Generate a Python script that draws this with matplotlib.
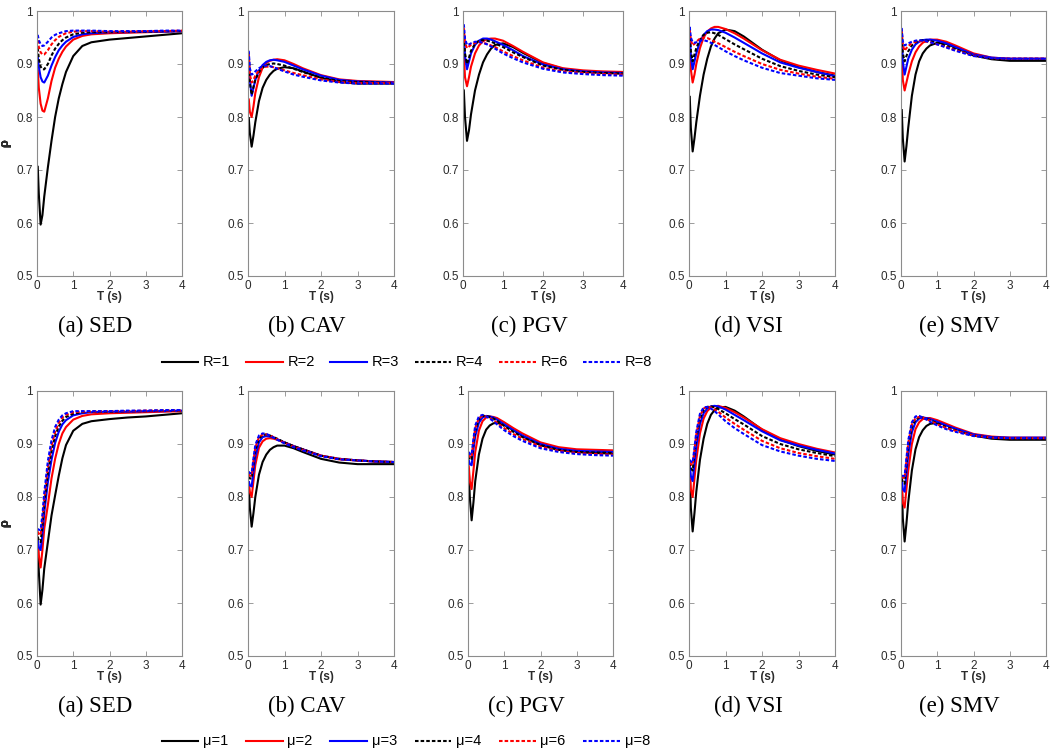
import matplotlib
matplotlib.use("Agg")
import matplotlib.pyplot as plt
from matplotlib import font_manager as fm
from matplotlib.lines import Line2D

# ---------------------------------------------------------------- data
# Period grid (s)
T = [0.02, 0.05, 0.1, 0.15, 0.2, 0.3, 0.4, 0.5, 0.6, 0.7, 0.8,
     1.0, 1.25, 1.5, 2.0, 2.5, 3.0, 3.5, 4.0]

R_values = [1, 2, 3, 4, 6, 8]
MU_values = [1, 2, 3, 4, 6, 8]
measures = ["SED", "CAV", "PGV", "VSI", "SMV"]
panel_letters = ["a", "b", "c", "d", "e"]

x_ticks = [0, 1, 2, 3, 4]
x_ticklabels = ["0", "1", "2", "3", "4"]
y_ticks = [0.5, 0.6, 0.7, 0.8, 0.9, 1.0]
y_ticklabels = ["0.5", "0.6", "0.7", "0.8", "0.9", "1"]

# correlation rho vs. period, one row per R value (1, 2, 3, 4, 6, 8)
SED_R = [
    [0.708, 0.655, 0.597, 0.615, 0.650, 0.705, 0.755, 0.800, 0.835, 0.862, 0.885, 0.915, 0.934, 0.941, 0.946, 0.949, 0.952, 0.955, 0.958],
    [0.890, 0.855, 0.825, 0.812, 0.810, 0.835, 0.868, 0.893, 0.910, 0.923, 0.933, 0.946, 0.953, 0.956, 0.958, 0.959, 0.960, 0.961, 0.962],
    [0.915, 0.895, 0.875, 0.867, 0.865, 0.878, 0.897, 0.913, 0.926, 0.935, 0.942, 0.951, 0.956, 0.958, 0.960, 0.960, 0.961, 0.961, 0.962],
    [0.930, 0.910, 0.895, 0.890, 0.890, 0.900, 0.916, 0.929, 0.938, 0.945, 0.950, 0.956, 0.959, 0.960, 0.960, 0.961, 0.961, 0.962, 0.962],
    [0.945, 0.932, 0.922, 0.918, 0.918, 0.926, 0.937, 0.945, 0.951, 0.955, 0.958, 0.961, 0.962, 0.962, 0.961, 0.961, 0.962, 0.962, 0.963],
    [0.955, 0.945, 0.937, 0.934, 0.935, 0.942, 0.950, 0.955, 0.958, 0.960, 0.962, 0.963, 0.963, 0.963, 0.962, 0.962, 0.962, 0.963, 0.963],
]
CAV_R = [
    [0.800, 0.770, 0.744, 0.765, 0.790, 0.830, 0.855, 0.870, 0.880, 0.887, 0.891, 0.894, 0.892, 0.886, 0.874, 0.866, 0.863, 0.863, 0.863],
    [0.835, 0.810, 0.800, 0.820, 0.845, 0.875, 0.893, 0.902, 0.906, 0.908, 0.909, 0.907, 0.900, 0.892, 0.879, 0.871, 0.868, 0.867, 0.866],
    [0.922, 0.870, 0.840, 0.855, 0.870, 0.888, 0.898, 0.904, 0.907, 0.908, 0.907, 0.904, 0.897, 0.890, 0.878, 0.870, 0.867, 0.866, 0.865],
    [0.915, 0.865, 0.842, 0.857, 0.870, 0.885, 0.893, 0.898, 0.900, 0.901, 0.900, 0.897, 0.891, 0.885, 0.874, 0.868, 0.866, 0.865, 0.864],
    [0.920, 0.880, 0.865, 0.870, 0.878, 0.888, 0.893, 0.895, 0.895, 0.894, 0.892, 0.888, 0.883, 0.879, 0.871, 0.866, 0.864, 0.864, 0.864],
    [0.925, 0.892, 0.880, 0.882, 0.886, 0.892, 0.896, 0.897, 0.896, 0.894, 0.891, 0.886, 0.880, 0.876, 0.869, 0.865, 0.863, 0.863, 0.863],
]
PGV_R = [
    [0.852, 0.800, 0.755, 0.775, 0.805, 0.850, 0.880, 0.903, 0.918, 0.929, 0.936, 0.939, 0.932, 0.921, 0.902, 0.891, 0.886, 0.884, 0.882],
    [0.920, 0.875, 0.858, 0.875, 0.895, 0.920, 0.935, 0.943, 0.947, 0.948, 0.948, 0.944, 0.934, 0.923, 0.903, 0.892, 0.888, 0.886, 0.885],
    [0.960, 0.915, 0.890, 0.905, 0.920, 0.936, 0.944, 0.948, 0.948, 0.946, 0.943, 0.936, 0.926, 0.915, 0.899, 0.890, 0.886, 0.884, 0.883],
    [0.962, 0.920, 0.900, 0.912, 0.925, 0.938, 0.944, 0.945, 0.944, 0.942, 0.939, 0.932, 0.922, 0.913, 0.897, 0.889, 0.885, 0.883, 0.882],
    [0.968, 0.940, 0.930, 0.933, 0.936, 0.940, 0.941, 0.940, 0.938, 0.935, 0.932, 0.924, 0.915, 0.907, 0.893, 0.886, 0.883, 0.881, 0.880],
    [0.975, 0.948, 0.936, 0.937, 0.939, 0.942, 0.942, 0.940, 0.937, 0.933, 0.929, 0.920, 0.911, 0.903, 0.891, 0.884, 0.881, 0.879, 0.878],
]
VSI_R = [
    [0.840, 0.780, 0.735, 0.760, 0.790, 0.840, 0.880, 0.910, 0.933, 0.948, 0.958, 0.965, 0.962, 0.952, 0.927, 0.907, 0.894, 0.885, 0.878],
    [0.940, 0.890, 0.865, 0.880, 0.900, 0.930, 0.950, 0.961, 0.967, 0.970, 0.970, 0.966, 0.958, 0.948, 0.926, 0.908, 0.897, 0.889, 0.882],
    [0.970, 0.915, 0.890, 0.905, 0.920, 0.942, 0.955, 0.962, 0.965, 0.965, 0.964, 0.959, 0.950, 0.940, 0.920, 0.903, 0.893, 0.885, 0.877],
    [0.960, 0.925, 0.905, 0.918, 0.930, 0.946, 0.955, 0.959, 0.960, 0.958, 0.955, 0.947, 0.937, 0.928, 0.910, 0.896, 0.887, 0.880, 0.875],
    [0.965, 0.945, 0.935, 0.938, 0.942, 0.948, 0.950, 0.949, 0.946, 0.942, 0.939, 0.932, 0.923, 0.915, 0.900, 0.889, 0.882, 0.876, 0.872],
    [0.970, 0.950, 0.941, 0.940, 0.941, 0.944, 0.945, 0.943, 0.940, 0.936, 0.932, 0.924, 0.915, 0.907, 0.893, 0.883, 0.878, 0.873, 0.870],
]
SMV_R = [
    [0.815, 0.760, 0.716, 0.745, 0.780, 0.840, 0.880, 0.905, 0.920, 0.929, 0.935, 0.940, 0.938, 0.931, 0.916, 0.909, 0.906, 0.906, 0.906],
    [0.930, 0.870, 0.850, 0.865, 0.880, 0.905, 0.922, 0.933, 0.940, 0.944, 0.946, 0.946, 0.942, 0.935, 0.920, 0.912, 0.910, 0.910, 0.910],
    [0.955, 0.905, 0.880, 0.895, 0.910, 0.927, 0.937, 0.942, 0.945, 0.946, 0.946, 0.944, 0.939, 0.932, 0.918, 0.912, 0.910, 0.910, 0.910],
    [0.960, 0.920, 0.905, 0.915, 0.924, 0.935, 0.941, 0.944, 0.945, 0.944, 0.943, 0.940, 0.934, 0.928, 0.916, 0.910, 0.908, 0.908, 0.908],
    [0.965, 0.935, 0.925, 0.930, 0.934, 0.939, 0.942, 0.943, 0.943, 0.942, 0.941, 0.937, 0.932, 0.926, 0.916, 0.911, 0.910, 0.910, 0.910],
    [0.968, 0.942, 0.935, 0.937, 0.939, 0.942, 0.944, 0.945, 0.944, 0.943, 0.941, 0.937, 0.931, 0.925, 0.915, 0.911, 0.910, 0.910, 0.910],
]

# one row per ductility value mu (1, 2, 3, 4, 6, 8)
SED_MU = [
    [0.725, 0.660, 0.597, 0.625, 0.665, 0.715, 0.765, 0.803, 0.840, 0.873, 0.898, 0.925, 0.938, 0.943, 0.947, 0.950, 0.952, 0.955, 0.958],
    [0.720, 0.690, 0.667, 0.700, 0.740, 0.785, 0.835, 0.872, 0.900, 0.920, 0.932, 0.946, 0.953, 0.956, 0.958, 0.959, 0.960, 0.961, 0.962],
    [0.720, 0.705, 0.700, 0.730, 0.770, 0.828, 0.870, 0.902, 0.923, 0.937, 0.945, 0.954, 0.958, 0.960, 0.961, 0.961, 0.962, 0.962, 0.963],
    [0.725, 0.718, 0.715, 0.745, 0.785, 0.845, 0.887, 0.915, 0.933, 0.944, 0.951, 0.957, 0.960, 0.961, 0.961, 0.962, 0.962, 0.963, 0.963],
    [0.735, 0.730, 0.728, 0.757, 0.797, 0.857, 0.897, 0.923, 0.940, 0.950, 0.955, 0.960, 0.961, 0.961, 0.962, 0.962, 0.963, 0.963, 0.963],
    [0.740, 0.738, 0.738, 0.767, 0.808, 0.868, 0.907, 0.932, 0.946, 0.954, 0.958, 0.962, 0.962, 0.962, 0.962, 0.963, 0.963, 0.964, 0.964],
]
CAV_MU = [
    [0.825, 0.780, 0.744, 0.770, 0.800, 0.842, 0.866, 0.880, 0.889, 0.894, 0.897, 0.897, 0.892, 0.885, 0.872, 0.865, 0.862, 0.862, 0.862],
    [0.830, 0.810, 0.800, 0.830, 0.860, 0.893, 0.905, 0.910, 0.911, 0.910, 0.908, 0.903, 0.896, 0.890, 0.878, 0.871, 0.869, 0.867, 0.866],
    [0.830, 0.822, 0.820, 0.848, 0.875, 0.903, 0.913, 0.915, 0.914, 0.912, 0.909, 0.903, 0.896, 0.890, 0.878, 0.872, 0.869, 0.867, 0.866],
    [0.838, 0.835, 0.835, 0.862, 0.888, 0.910, 0.917, 0.918, 0.916, 0.913, 0.910, 0.903, 0.896, 0.890, 0.878, 0.872, 0.869, 0.867, 0.866],
    [0.843, 0.840, 0.840, 0.868, 0.893, 0.913, 0.918, 0.918, 0.916, 0.913, 0.909, 0.902, 0.895, 0.889, 0.878, 0.872, 0.869, 0.867, 0.866],
    [0.848, 0.845, 0.845, 0.873, 0.898, 0.916, 0.920, 0.919, 0.916, 0.912, 0.908, 0.901, 0.894, 0.888, 0.877, 0.871, 0.869, 0.867, 0.866],
]
PGV_MU = [
    [0.855, 0.800, 0.756, 0.790, 0.830, 0.880, 0.910, 0.927, 0.935, 0.939, 0.940, 0.936, 0.926, 0.915, 0.898, 0.889, 0.885, 0.883, 0.882],
    [0.860, 0.830, 0.815, 0.850, 0.885, 0.925, 0.943, 0.950, 0.952, 0.951, 0.949, 0.941, 0.930, 0.920, 0.903, 0.894, 0.890, 0.889, 0.888],
    [0.870, 0.862, 0.860, 0.890, 0.915, 0.940, 0.950, 0.953, 0.952, 0.950, 0.946, 0.937, 0.926, 0.916, 0.900, 0.891, 0.887, 0.886, 0.885],
    [0.878, 0.872, 0.870, 0.900, 0.925, 0.946, 0.953, 0.953, 0.951, 0.948, 0.944, 0.934, 0.923, 0.913, 0.898, 0.889, 0.885, 0.884, 0.883],
    [0.880, 0.876, 0.875, 0.905, 0.930, 0.949, 0.953, 0.952, 0.949, 0.945, 0.940, 0.930, 0.919, 0.910, 0.895, 0.887, 0.883, 0.881, 0.880],
    [0.885, 0.881, 0.880, 0.910, 0.935, 0.952, 0.955, 0.952, 0.948, 0.943, 0.937, 0.926, 0.915, 0.906, 0.892, 0.885, 0.881, 0.879, 0.878],
]
VSI_MU = [
    [0.855, 0.780, 0.735, 0.770, 0.810, 0.870, 0.910, 0.938, 0.955, 0.964, 0.969, 0.970, 0.963, 0.952, 0.927, 0.908, 0.896, 0.887, 0.880],
    [0.860, 0.815, 0.800, 0.835, 0.870, 0.920, 0.948, 0.962, 0.969, 0.971, 0.972, 0.968, 0.960, 0.950, 0.928, 0.911, 0.900, 0.891, 0.884],
    [0.860, 0.840, 0.830, 0.862, 0.895, 0.938, 0.958, 0.967, 0.971, 0.972, 0.971, 0.965, 0.955, 0.945, 0.924, 0.907, 0.897, 0.889, 0.882],
    [0.865, 0.855, 0.850, 0.880, 0.910, 0.948, 0.964, 0.970, 0.971, 0.969, 0.966, 0.958, 0.947, 0.937, 0.915, 0.900, 0.890, 0.883, 0.877],
    [0.865, 0.862, 0.860, 0.888, 0.918, 0.953, 0.967, 0.970, 0.969, 0.965, 0.961, 0.950, 0.938, 0.927, 0.906, 0.892, 0.883, 0.877, 0.872],
    [0.870, 0.867, 0.865, 0.893, 0.923, 0.957, 0.969, 0.970, 0.967, 0.962, 0.956, 0.943, 0.930, 0.919, 0.898, 0.886, 0.878, 0.872, 0.868],
]
SMV_MU = [
    [0.830, 0.760, 0.716, 0.750, 0.790, 0.850, 0.890, 0.913, 0.926, 0.934, 0.938, 0.940, 0.936, 0.929, 0.916, 0.910, 0.908, 0.908, 0.908],
    [0.830, 0.790, 0.780, 0.815, 0.850, 0.900, 0.928, 0.941, 0.947, 0.949, 0.949, 0.945, 0.938, 0.931, 0.919, 0.914, 0.912, 0.912, 0.912],
    [0.835, 0.815, 0.810, 0.845, 0.880, 0.922, 0.941, 0.948, 0.950, 0.949, 0.947, 0.942, 0.935, 0.929, 0.918, 0.913, 0.912, 0.912, 0.912],
    [0.835, 0.828, 0.825, 0.860, 0.895, 0.932, 0.946, 0.950, 0.950, 0.948, 0.945, 0.939, 0.932, 0.926, 0.916, 0.912, 0.911, 0.911, 0.911],
    [0.840, 0.837, 0.835, 0.868, 0.902, 0.937, 0.949, 0.951, 0.950, 0.947, 0.944, 0.937, 0.930, 0.925, 0.916, 0.912, 0.911, 0.911, 0.911],
    [0.840, 0.840, 0.840, 0.873, 0.907, 0.941, 0.952, 0.953, 0.950, 0.946, 0.942, 0.935, 0.928, 0.923, 0.915, 0.912, 0.911, 0.911, 0.911],
]

# ---------------------------------------------------------------- style
W, H = 1052, 756
COLORS = ["black", "red", "blue", "black", "red", "blue"]
DASH = (0, (1.7, 1.0))
STYLES = ["-", "-", "-", DASH, DASH, DASH]
LW = 1.5

available = {f.name for f in fm.fontManager.ttflist}
SANS = "Liberation Sans"
SERIF = "Liberation Serif"
if "Liberation Sans Narrow" in available:
    LEG_FAMILY, LEG_SIZE = "Liberation Sans Narrow", 11.5
else:
    LEG_FAMILY, LEG_SIZE = SANS, 10.5
plt.rcParams["font.family"] = [SANS, "DejaVu Sans"]

fig = plt.figure(figsize=(W / 100, H / 100), dpi=100)


def px_rect(left, right, top, bottom):
    return [left / W, 1 - bottom / H, (right - left) / W, (bottom - top) / H]


# pixel extents of each plot box (left, right)
top_x = [(37, 182), (248, 394), (463, 623), (689, 835), (901, 1046)]
bot_x = [(37, 182), (248, 394), (468, 613), (689, 835), (901, 1046)]
rows = [
    dict(top=11, bottom=276, xs=top_x, data=[SED_R, CAV_R, PGV_R, VSI_R, SMV_R],
         cap_base=332, leg_y=362, sym="R", vals=R_values),
    dict(top=391, bottom=656, xs=bot_x, data=[SED_MU, CAV_MU, PGV_MU, VSI_MU, SMV_MU],
         cap_base=712, leg_y=741, sym="μ", vals=MU_values),
]

for row in rows:
    for i, (xl, xr) in enumerate(row["xs"]):
        ax = fig.add_axes(px_rect(xl, xr, row["top"], row["bottom"]))
        for k, series in enumerate(row["data"][i]):
            ax.plot(T, series, color=COLORS[k], linestyle=STYLES[k], lw=LW,
                    solid_capstyle="butt", dash_capstyle="butt")
        ax.set_xlim(0, 4)
        ax.set_ylim(0.5, 1.0)
        ax.set_xticks(x_ticks)
        ax.set_xticklabels(x_ticklabels)
        ax.set_yticks(y_ticks)
        ax.set_yticklabels(y_ticklabels)
        ax.tick_params(direction="in", top=True, right=True, length=3.5,
                       width=0.6, color="#8c8c8c", labelsize=8.5,
                       labelcolor="#2b2b2b", pad=3)
        for sp in ax.spines.values():
            sp.set_color("#8c8c8c")
            sp.set_linewidth(0.8)
        ax.set_xlabel("T (s)", fontsize=8.5, fontweight="bold", color="#2b2b2b")
        ax.xaxis.set_label_coords(0.5, -0.058)
        ax.set_ylabel("ρ", fontsize=9, fontweight="bold", color="#2b2b2b")
        ax.yaxis.set_label_coords((11 - xl) / (xr - xl), 0.5)

        cx = (xl + xr) / 2 - 14
        fig.text(cx / W, 1 - row["cap_base"] / H,
                 f"({panel_letters[i]}) {measures[i]}",
                 family=SERIF, fontsize=16.5, ha="center", va="baseline")

    # legend row drawn directly on the figure
    yl = 1 - row["leg_y"] / H
    for k, v in enumerate(row["vals"]):
        x0 = 161.7 + k * 84.3
        fig.add_artist(Line2D([x0 / W, (x0 + 36.7) / W], [yl, yl],
                              transform=fig.transFigure, color=COLORS[k],
                              linestyle=STYLES[k], lw=LW))
        fig.text((x0 + 41.5) / W, yl, f"{row['sym']}={v}",
                 family=[LEG_FAMILY, "DejaVu Sans"], fontsize=LEG_SIZE,
                 ha="left", va="center")

fig.savefig("out.png", dpi=100)
